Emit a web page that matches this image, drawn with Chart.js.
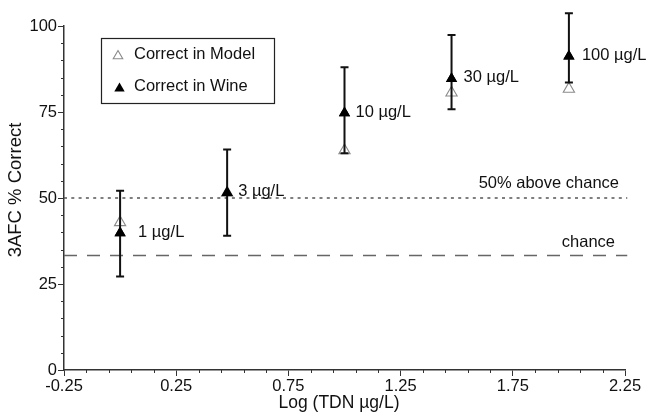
<!DOCTYPE html>
<html>
<head>
<meta charset="utf-8">
<script src="https://cdn.jsdelivr.net/npm/chart.js@4/dist/chart.umd.min.js"></script>
<style>
  html, body { margin: 0; padding: 0; background: #fff; }
  #wrap { width: 651px; height: 414px; position: relative; }
</style>
</head>
<body>
<div id="wrap"><canvas id="c" width="651" height="414"></canvas></div>
<script>
// ---- data ----
const concentrationLabels = ['1 µg/L', '3 µg/L', '10 µg/L', '30 µg/L', '100 µg/L'];
const logTDN = [0, 0.477, 1, 1.477, 2];
const correctInModel = [42.9, 51.5, 63.8, 80.6, 81.7];
const correctInWine = [39.8, 51.5, 74.7, 84.7, 91.2];
const wineLower = [27.2, 39.0, 63.0, 75.8, 83.6];
const wineUpper = [52.1, 64.1, 88.0, 97.4, 103.7];
const xTickValues = [-0.25, 0.25, 0.75, 1.25, 1.75, 2.25];
const yTickValues = [0, 25, 50, 75, 100];
const chanceLevel = 33.3;
const aboveChanceLevel = 50;
const xRange = [-0.25, 2.25];
const yRange = [0, 100];
const xTitle = 'Log (TDN µg/L)';
const yTitle = '3AFC % Correct';

const FONT = '"Liberation Sans", Arial, Helvetica, sans-serif';
const TEXT = '#111';
const AXIS = '#333';

function tri(ctx, x, y, r, fill, stroke, lw) {
  ctx.beginPath();
  ctx.moveTo(x, y - r);
  ctx.lineTo(x + Math.sin(2 * Math.PI / 3) * r, y - Math.cos(2 * Math.PI / 3) * r);
  ctx.lineTo(x + Math.sin(4 * Math.PI / 3) * r, y - Math.cos(4 * Math.PI / 3) * r);
  ctx.closePath();
  if (fill) { ctx.fillStyle = fill; ctx.fill(); }
  if (stroke) { ctx.strokeStyle = stroke; ctx.lineWidth = lw || 1; ctx.stroke(); }
}

const overlay = {
  id: 'overlay',
  afterDatasetsDraw(chart) {
    const {ctx, scales: {x, y}} = chart;
    ctx.save();
    // error bars
    ctx.strokeStyle = '#111';
    ctx.lineWidth = 2;
    for (let i = 0; i < logTDN.length; i++) {
      const px = x.getPixelForValue(logTDN[i]);
      const lo = y.getPixelForValue(wineLower[i]);
      const hi = y.getPixelForValue(wineUpper[i]);
      ctx.beginPath();
      ctx.moveTo(px, lo); ctx.lineTo(px, hi);
      ctx.moveTo(px - 4, lo); ctx.lineTo(px + 4, lo);
      ctx.moveTo(px - 4, hi); ctx.lineTo(px + 4, hi);
      ctx.stroke();
    }
    // redraw wine triangles on top of bars
    for (let i = 0; i < logTDN.length; i++) {
      tri(ctx, x.getPixelForValue(logTDN[i]), y.getPixelForValue(correctInWine[i]), 6.5, '#000');
    }
    // point labels
    const dx = [18, 11, 11, 12, 13];
    ctx.fillStyle = TEXT;
    ctx.font = '16.5px ' + FONT;
    ctx.textAlign = 'left';
    ctx.textBaseline = 'middle';
    for (let i = 0; i < logTDN.length; i++) {
      ctx.fillText(concentrationLabels[i], x.getPixelForValue(logTDN[i]) + dx[i], y.getPixelForValue(correctInWine[i]) - 1);
    }
    // reference line labels
    ctx.textAlign = 'right';
    ctx.fillText('50% above chance', chart.chartArea.right - 6, y.getPixelForValue(aboveChanceLevel) - 15);
    ctx.fillText('chance', chart.chartArea.right - 10, y.getPixelForValue(chanceLevel) - 13);
    // legend
    ctx.strokeStyle = '#222';
    ctx.lineWidth = 1.2;
    ctx.strokeRect(101.5, 38.5, 173, 65);
    tri(ctx, 118, 56, 5.5, null, '#8a8a8a', 1.1);
    tri(ctx, 119.5, 88.5, 6, '#000');
    ctx.textAlign = 'left';
    ctx.fillStyle = TEXT;
    ctx.fillText('Correct in Model', 134, 54);
    ctx.fillText('Correct in Wine', 134, 86);
    ctx.restore();
  },
  afterDraw(chart) {
    const {ctx, scales: {x, y}} = chart;
    ctx.save();
    ctx.strokeStyle = AXIS;
    ctx.lineWidth = 1;
    ctx.beginPath();
    const by = y.getPixelForValue(yRange[0]);
    for (let k = 0; k <= 25; k++) {
      if (k % 5 === 0) continue;
      const v = xRange[0] + k * 0.1;
      const px = Math.round(x.getPixelForValue(v)) + 0.5;
      ctx.moveTo(px, by); ctx.lineTo(px, by + 3);
    }
    const lx = x.getPixelForValue(xRange[0]);
    for (let k = 0; k <= 20; k++) {
      if (k % 5 === 0) continue;
      const py = Math.round(y.getPixelForValue(k * 5)) + 0.5;
      ctx.moveTo(lx, py); ctx.lineTo(lx - 3, py);
    }
    ctx.stroke();
    // axis titles
    ctx.fillStyle = TEXT;
    ctx.textAlign = 'center';
    ctx.textBaseline = 'middle';
    ctx.font = '17.5px ' + FONT;
    ctx.fillText(xTitle, 339, 403);
    ctx.translate(16, 190);
    ctx.rotate(-Math.PI / 2);
    ctx.font = '18.5px ' + FONT;
    ctx.fillText(yTitle, 0, 0);
    ctx.restore();
  }
};

const refLine = (level, dash, color, width) => ({
  type: 'line',
  data: [{x: xRange[0], y: level}, {x: 2.26, y: level}],
  borderColor: color,
  borderWidth: width,
  borderDash: dash,
  pointRadius: 0,
  fill: false,
  order: 5
});

new Chart(document.getElementById('c'), {
  type: 'scatter',
  data: {
    datasets: [
      refLine(aboveChanceLevel, [3, 4.3], '#555', 1.5),
      refLine(chanceLevel, [13, 10], '#666', 1.5),
      {
        label: 'Correct in Model',
        data: logTDN.map((v, i) => ({x: v, y: correctInModel[i]})),
        pointStyle: 'triangle',
        pointRadius: 6.5,
        borderColor: '#8a8a8a',
        borderWidth: 1.1,
        backgroundColor: 'rgba(255,255,255,0)',
        order: 2
      },
      {
        label: 'Correct in Wine',
        data: logTDN.map((v, i) => ({x: v, y: correctInWine[i]})),
        pointStyle: 'triangle',
        pointRadius: 6.5,
        borderWidth: 0,
        borderColor: '#000',
        backgroundColor: '#000',
        order: 1
      }
    ]
  },
  options: {
    responsive: false,
    animation: false,
    devicePixelRatio: 1,
    clip: false,
    layout: { padding: { top: 26, right: 26, left: 0, bottom: 0 } },
    plugins: { legend: { display: false }, tooltip: { enabled: false } },
    scales: {
      x: {
        type: 'linear',
        min: xRange[0], max: xRange[1],
        afterBuildTicks: s => { s.ticks = xTickValues.map(v => ({value: v})); },
        afterFit: s => { s.height = 44; },
        ticks: {
          callback: v => v.toFixed(2),
          font: { family: FONT, size: 16.5 },
          color: TEXT,
          padding: 1,
          maxRotation: 0,
          autoSkip: false
        },
        grid: { drawOnChartArea: false, tickLength: 6, tickColor: AXIS, tickWidth: 1 },
        border: { color: AXIS, width: 1.5 },
        title: { display: false }
      },
      y: {
        type: 'linear',
        min: yRange[0], max: yRange[1],
        afterBuildTicks: s => { s.ticks = yTickValues.map(v => ({value: v})); },
        afterFit: s => { s.width = 64; },
        ticks: {
          callback: v => String(v),
          font: { family: FONT, size: 16.5 },
          color: TEXT,
          padding: 1,
          autoSkip: false
        },
        grid: { drawOnChartArea: false, tickLength: 6, tickColor: AXIS, tickWidth: 1 },
        border: { color: AXIS, width: 1.5 },
        title: { display: false }
      }
    }
  },
  plugins: [overlay]
});
</script>
</body>
</html>
